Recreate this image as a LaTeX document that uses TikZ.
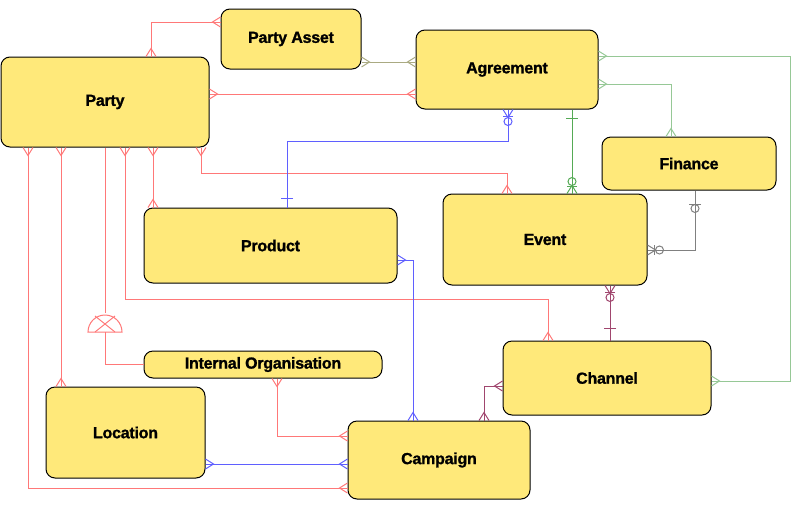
\documentclass[tikz,border=0pt]{standalone}
\usepackage{fontspec}
\setmainfont{Liberation Sans}[BoldFeatures={FakeBold=1.2,LetterSpace=-1.5}]
\usetikzlibrary{decorations.markings}
\definecolor{boxfill}{RGB}{255,233,122}
\definecolor{lred}{RGB}{255,120,120}
\definecolor{lblue}{RGB}{95,95,255}
\definecolor{dgreen}{RGB}{85,170,85}
\definecolor{lgreen}{RGB}{150,200,150}
\definecolor{olivec}{RGB}{170,170,130}
\definecolor{greyc}{RGB}{128,128,128}
\definecolor{magc}{RGB}{160,70,110}
\tikzset{
  ent/.style={draw=black, line width=1pt, fill=boxfill, rounded corners=9pt,
    inner sep=0pt, font=\fontsize{16}{18}\selectfont\bfseries},
  conn/.style={line width=1pt},
  cS/.style={postaction={decorate,decoration={markings,
    mark=at position 0 with {\draw (0pt,5pt)--(8pt,0pt)--(0pt,-5pt);}}}},
  cE/.style={postaction={decorate,decoration={markings,
    mark=at position 1 with {\draw (0pt,5pt)--(-8pt,0pt)--(0pt,-5pt);}}}},
  zmS/.style={postaction={decorate,decoration={markings,
    mark=at position 0 with {\draw (0pt,5pt)--(8pt,0pt)--(0pt,-5pt);
      \draw (7pt,5pt)--(7pt,-5pt); \draw (12pt,0pt) circle (4pt);}}}},
  zmE/.style={postaction={decorate,decoration={markings,
    mark=at position 1 with {\draw (0pt,5pt)--(-8pt,0pt)--(0pt,-5pt);
      \draw (-7pt,5pt)--(-7pt,-5pt); \draw (-12pt,0pt) circle (4pt);}}}},
  barS/.style={postaction={decorate,decoration={markings,
    mark=at position 0 with {\draw (#1,6pt)--(#1,-6pt);}}}},
  barE/.style={postaction={decorate,decoration={markings,
    mark=at position 1 with {\draw (-#1,6pt)--(-#1,-6pt);}}}},
  zoS/.style={postaction={decorate,decoration={markings,
    mark=at position 0 with {\draw (14pt,6pt)--(14pt,-6pt); \draw (18pt,0pt) circle (4pt);}}}},
}
\begin{document}
\begin{tikzpicture}[x=1pt,y=-1pt]
\useasboundingbox (0,0) rectangle (798,507);

\coordinate (subtop) at (105,313);
\coordinate (subbase) at (105,332);

% nodes
\node[ent, minimum width=140pt, minimum height=60pt] (passet) at (291,39) {Party Asset};
\node[ent, minimum width=182pt, minimum height=79pt] (agr) at (507,69.5) {Agreement};
\node[ent, minimum width=208pt, minimum height=90pt] (party) at (105,102) {Party};
\node[ent, minimum width=174pt, minimum height=53pt] (finance) at (689,163.5) {Finance};
\node[ent, minimum width=253pt, minimum height=75pt] (product) at (270.5,245.5) {Product};
\node[ent, minimum width=204pt, minimum height=91pt] (event) at (545,239.5) {Event};
\node[ent, minimum width=238pt, minimum height=27pt] (intorg) at (263,364.5) {Internal Organisation};
\node[ent, minimum width=208pt, minimum height=74pt] (channel) at (607,378) {Channel};
\node[ent, minimum width=159pt, minimum height=91pt] (location) at (125.5,432.5) {Location};
\node[ent, minimum width=182pt, minimum height=78pt] (campaign) at (439,460) {Campaign};

% red connectors
\draw[conn, lred, cS, cE] (party.north -| 151,0) |- (passet.west |- 0,22);
\draw[conn, lred, cS, cE] (party.east |- 0,94) -- (agr.west |- 0,94);
\draw[conn, lred, cS, cE] (party.south -| 201,0) |- (507,173) -- (event.north -| 507,0);
\draw[conn, lred, cS, cE] (party.south -| 125,0) |- (548,299) -- (channel.north -| 548,0);
\draw[conn, lred, cS, cE] (party.south -| 153,0) -- (product.north -| 153,0);
\draw[conn, lred, cS, cE] (party.south -| 61,0) -- (location.north -| 61,0);
\draw[conn, lred, cS, cE] (party.south -| 28,0) |- (campaign.west |- 0,488);
\draw[conn, lred, cS, cE] (intorg.south -| 277,0) |- (campaign.west |- 0,436);
% subtype symbol
\draw[conn, lred] (party.south -| subtop) -- (subtop);
\draw[conn, lred] (subbase) |- (intorg.west);
\draw[conn, lred] (88,332) arc (180:0:17pt) -- cycle;
\draw[conn, lred] (95,316) -- (115,332) (115,316) -- (95,332);

% olive
\draw[conn, olivec, cS, cE] (passet.east |- 0,62) -- (agr.west |- 0,62);

% blue
\draw[conn, lblue, zmS, barE=9pt] (agr.south -| 508,0) |- (287,141) -- (product.north -| 287,0);
\draw[conn, lblue, cS, cE] (product.east |- 0,260) -| (campaign.north -| 413,0);
\draw[conn, lblue, cS, cE] (location.east |- 0,464) -- (campaign.west |- 0,464);

% green
\draw[conn, dgreen, barS=9pt, zmE] (agr.south -| 572,0) -- (event.north -| 572,0);
\draw[conn, lgreen, cS, cE] (agr.east |- 0,56) -| (790,381) -- (channel.east |- 0,381);
\draw[conn, lgreen, cS, cE] (agr.east |- 0,84) -| (finance.north -| 671,0);

% grey
\draw[conn, greyc, zoS, zmE] (finance.south -| 695,0) |- (event.east |- 0,250);

% magenta
\draw[conn, magc, zmS, barE=12pt] (event.south -| 610,0) -- (channel.north -| 610,0);
\draw[conn, magc, cS, cE] (channel.west |- 0,386) -| (campaign.north -| 484,0);
\end{tikzpicture}
\end{document}
